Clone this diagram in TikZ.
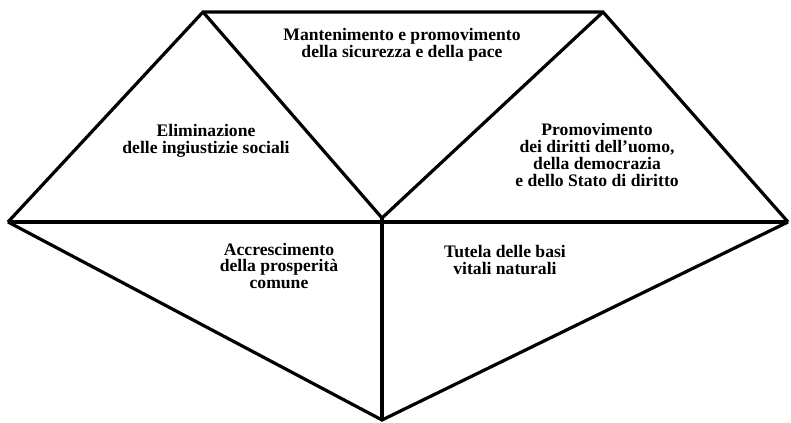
\documentclass[tikz,border=0pt]{standalone}
\usepackage{fontspec}
\setmainfont{Liberation Serif}
\usepackage{tikz}
\usetikzlibrary{positioning, calc}
\tikzset{%
	edge/.style={line width=2.4pt, line join=miter},
	field/.style={align=center, inner sep=0pt, font=\bfseries\fontsize{13.2}{12.6}\selectfont}
}
\begin{document}
\begin{tikzpicture}[x=0.75pt, y=-0.75pt]
	\useasboundingbox (0,0) rectangle (791,423);
	\coordinate (tl) at (203,12);
	\coordinate (tr) at (603,12);
	\coordinate (l) at (8,222);
	\coordinate (r) at (788,222);
	\coordinate (c) at (382,218);
	\coordinate (b) at (382,420);
	\draw [edge] (l) -- (tl) -- (tr) -- (r);
	\draw [edge] (tl) -- (c) -- (tr);
	\draw [edge] (l) -- (r);
	\draw [edge] (c) -- (b);
	\draw [edge] (l) -- (b) -- (r);
	\node[field] (peace) at (402,45) {Mantenimento e promovimento\\della sicurezza e della pace};
	\node[field] (social) at (206,141) {Eliminazione\\delle ingiustizie sociali};
	\node[field] (rights) at (597,155) {Promovimento\\dei diritti dell’uomo,\\della democrazia\\e dello Stato di diritto};
	\node[field] (wealth) at (279,266) {Accrescimento\\della prosperità\\comune};
	\node[field] (nature) at (505,260) {Tutela delle basi\\vitali naturali};
\end{tikzpicture}
\end{document}
